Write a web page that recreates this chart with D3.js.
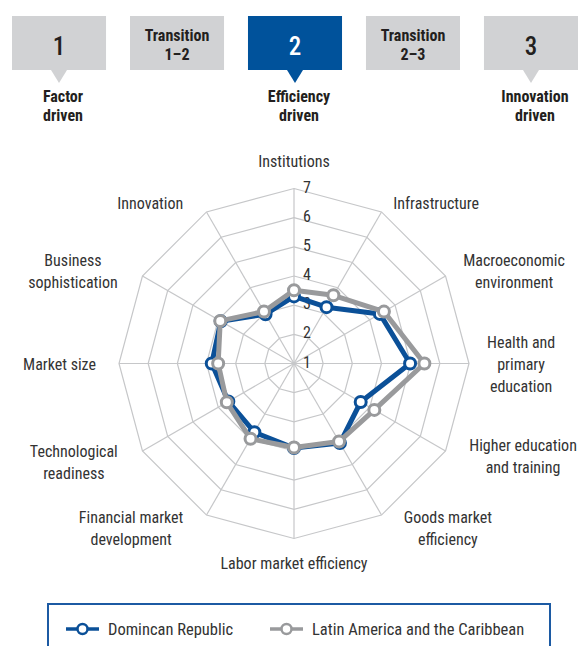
<!DOCTYPE html>
<html>
<head>
<meta charset="utf-8">
<script src="https://cdn.jsdelivr.net/npm/d3@7"></script>
<style>
  html, body { margin: 0; padding: 0; background: #fff; }
  svg { display: block; }
  text { font-family: "Liberation Sans Narrow", "Roboto Condensed", "Arial Narrow", sans-serif; }
</style>
</head>
<body>
<div id="chart"></div>
<script>
// Stage boxes along the top
const stages = [["1"], ["Transition", "1–2"], ["2"], ["Transition", "2–3"], ["3"]];
const activeStage = 2;
const stageNames = [["Factor", "driven"], null, ["Efficiency", "driven"], null, ["Innovation", "driven"]];

// Radar axes, clockwise from the top
const pillars = ["Institutions", "Infrastructure", "Macroeconomic environment",
  "Health and primary education", "Higher education and training", "Goods market efficiency",
  "Labor market efficiency", "Financial market development", "Technological readiness",
  "Market size", "Business sophistication", "Innovation"];
const pillarLines = [["Institutions"], ["Infrastructure"], ["Macroeconomic", "environment"],
  ["Health and", "primary", "education"], ["Higher education", "and training"], ["Goods market", "efficiency"],
  ["Labor market efficiency"], ["Financial market", "development"], ["Technological", "readiness"],
  ["Market size"], ["Business", "sophistication"], ["Innovation"]];

const dominican = [3.30, 3.23, 4.40, 4.98, 3.64, 4.15, 3.90, 3.72, 3.60, 3.82, 3.90, 2.95];
const latam = [3.51, 3.70, 4.56, 5.47, 4.18, 4.09, 3.88, 3.98, 3.66, 3.60, 3.92, 3.06];
const ticks = [1, 2, 3, 4, 5, 6, 7];

const seriesNames = ["Domincan Republic", "Latin America and the Caribbean"];
const blue = "#0b5098";
const grey = "#999a9c";

const width = 579, height = 646;
const svg = d3.select("#chart").append("svg")
  .attr("width", width)
  .attr("height", height);

// ---- header ----
const bx = d3.scaleBand().domain(d3.range(stages.length)).range([12, 578]).paddingInner(0.203);
const boxTop = 16, boxH = 54;

const head = svg.append("g");
stages.forEach((s, i) => {
  const x0 = bx(i), cx = x0 + bx.bandwidth() / 2;
  const active = i === activeStage;
  const fill = active ? "#00529b" : "#d1d2d4";
  head.append("rect")
    .attr("x", x0).attr("y", boxTop)
    .attr("width", bx.bandwidth()).attr("height", boxH)
    .attr("fill", fill);
  if (stageNames[i]) {
    head.append("path")
      .attr("d", `M${cx - 8},${boxTop + boxH} L${cx + 8},${boxTop + boxH} L${cx},${boxTop + boxH + 13} Z`)
      .attr("fill", fill);
    stageNames[i].forEach((t, j) => {
      head.append("text")
        .attr("x", cx + 4).attr("y", 102 + j * 19)
        .attr("text-anchor", "middle")
        .attr("font-size", "16px").attr("font-weight", "bold")
        .attr("fill", "#231f20")
        .text(t);
    });
  }
  if (s.length === 1) {
    head.append("text")
      .attr("x", cx).attr("y", boxTop + 39)
      .attr("text-anchor", "middle")
      .attr("font-size", "25px")
      .attr("font-weight", 500)
      .attr("fill", active ? "#fff" : "#231f20")
      .text(s[0]);
  } else {
    s.forEach((t, j) => {
      head.append("text")
        .attr("x", cx).attr("y", boxTop + 25 + j * 19)
        .attr("text-anchor", "middle")
        .attr("font-size", "16px").attr("font-weight", "bold")
        .attr("fill", "#231f20")
        .text(t);
    });
  }
});

// ---- radar ----
const cx = 294, cy = 363.5, R = 175;
const r = d3.scaleLinear().domain([1, 7]).range([0, R]);
const angle = d3.scaleLinear().domain([0, pillars.length]).range([0, 2 * Math.PI]);
const pt = (i, v) => [cx + r(v) * Math.sin(angle(i)), cy - r(v) * Math.cos(angle(i))];

const grid = svg.append("g")
  .attr("fill", "none")
  .attr("stroke", "#c6c7c9")
  .attr("stroke-width", 1.2);

ticks.slice(1).forEach(t => {
  grid.append("path")
    .attr("d", d3.line()(pillars.map((p, i) => pt(i, t))) + "Z");
});
pillars.forEach((p, i) => {
  grid.append("line")
    .attr("x1", cx).attr("y1", cy)
    .attr("x2", pt(i, 7)[0]).attr("y2", pt(i, 7)[1]);
});

// tick labels along the top spoke
svg.append("g").selectAll("text")
  .data(ticks)
  .join("text")
  .attr("x", cx + 9)
  .attr("y", d => cy - r(d) + 4)
  .attr("font-size", "16px")
  .attr("fill", "#333")
  .text(d => d);

// axis labels, placed just outside the end of each spoke
const labels = svg.append("g");
const lineH = 22;
pillarLines.forEach((lines, i) => {
  const a = angle(i);
  const s = Math.sin(a), c = Math.cos(a);
  const px = cx + (R + 10) * s, py = cy - (R + 10) * c;
  const g = labels.append("g").attr("font-size", "16px").attr("fill", "#333");
  let midY = py;
  if (Math.abs(s) < 0.01) midY = c > 0 ? py - 18 : py + 14;
  else if (c < -0.8) midY = py + 4;
  else if (s < 0 && c < -0.4) midY = py + 6;
  const texts = lines.map((t, j) => g.append("text")
    .attr("y", midY + (j - (lines.length - 1) / 2) * lineH + 6)
    .attr("text-anchor", "middle")
    .text(t));
  const blockW = d3.max(texts, t => t.node().getComputedTextLength());
  let centreX = px;
  if (s > 0.01) centreX = px + (Math.abs(c) < 0.1 ? 8 : 12 - 6 * c) + blockW / 2;
  else if (s < -0.01) centreX = px - (13 + 6 * Math.abs(c)) - blockW / 2;
  texts.forEach(t => t.attr("x", centreX));
});

// series
const radarLine = d3.line().x(d => d[0]).y(d => d[1]);
[[dominican, blue], [latam, grey]].forEach(([vals, col]) => {
  const pts = vals.map((v, i) => pt(i, v));
  svg.append("path")
    .attr("d", radarLine(pts) + "Z")
    .attr("fill", "none")
    .attr("stroke", col)
    .attr("stroke-width", 5)
    .attr("stroke-linejoin", "round");
  svg.append("g").selectAll("circle")
    .data(pts)
    .join("circle")
    .attr("cx", d => d[0]).attr("cy", d => d[1])
    .attr("r", 5.5)
    .attr("fill", "#fff")
    .attr("stroke", col)
    .attr("stroke-width", 3);
});

// ---- legend ----
const lg = svg.append("g");
lg.append("rect")
  .attr("x", 48).attr("y", 604)
  .attr("width", 502).attr("height", 60)
  .attr("fill", "#fff")
  .attr("stroke", "#1c5aa3")
  .attr("stroke-width", 2);
const legendX = [66, 270];
seriesNames.forEach((name, i) => {
  const col = i === 0 ? blue : grey;
  const x0 = legendX[i];
  lg.append("line")
    .attr("x1", x0).attr("x2", x0 + 33)
    .attr("y1", 629).attr("y2", 629)
    .attr("stroke", col).attr("stroke-width", 3.5);
  lg.append("circle")
    .attr("cx", x0 + 16.5).attr("cy", 629).attr("r", 5)
    .attr("fill", "#fff").attr("stroke", col).attr("stroke-width", 2.5);
  lg.append("text")
    .attr("x", x0 + 42).attr("y", 635)
    .attr("font-size", "16.5px")
    .attr("fill", "#333")
    .text(name);
});
</script>
</body>
</html>
